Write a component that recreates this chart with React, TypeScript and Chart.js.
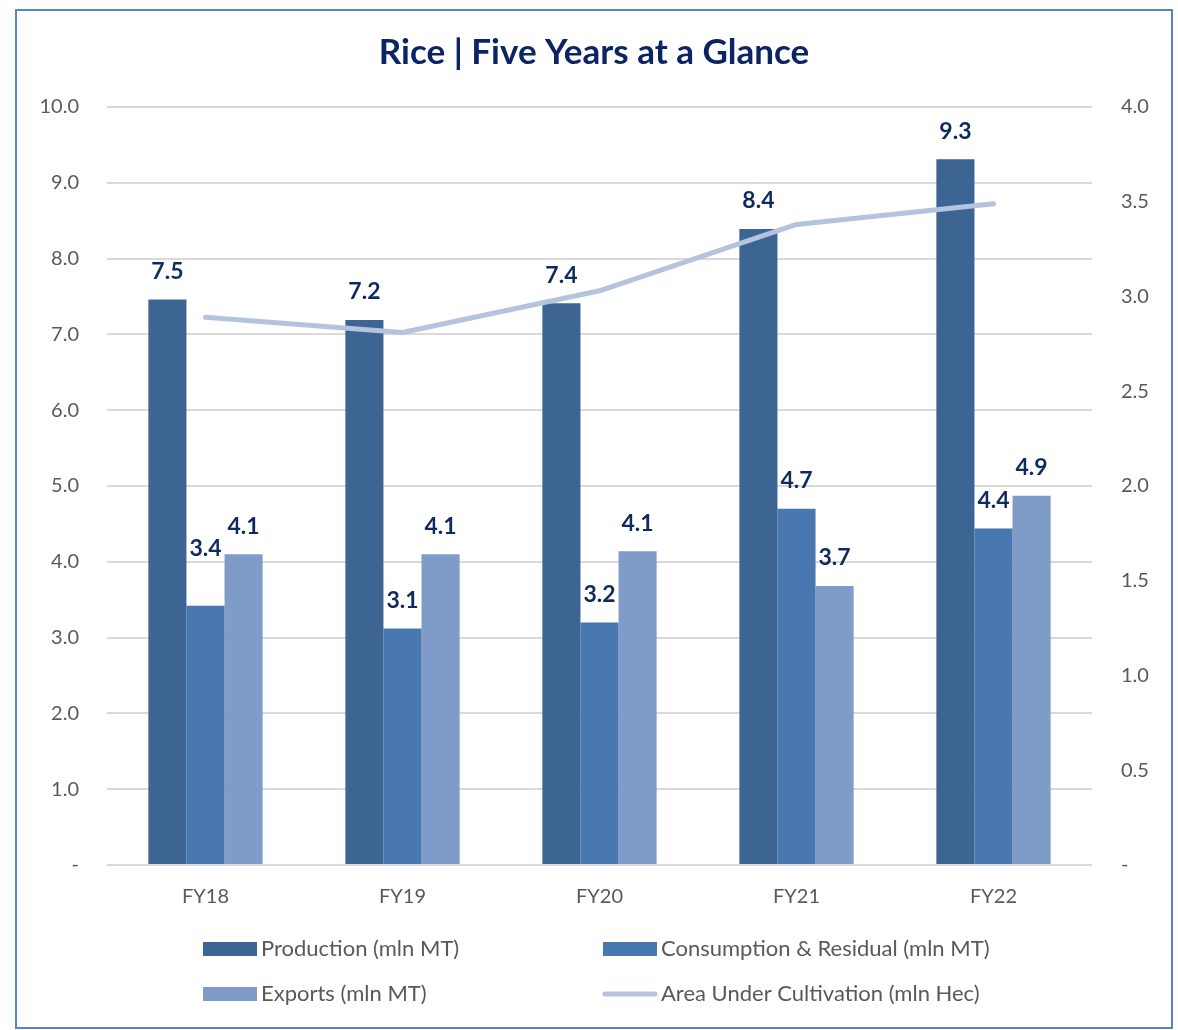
import React, { useEffect, useRef } from "react";
import { Chart, registerables } from "chart.js";

Chart.register(...registerables);

const categories = ["FY18", "FY19", "FY20", "FY21", "FY22"];
const production = [7.46, 7.19, 7.41, 8.39, 9.31];
const consumption = [3.42, 3.12, 3.2, 4.7, 4.44];
const exportsMT = [4.1, 4.1, 4.14, 3.68, 4.87];
const areaHec = [2.89, 2.81, 3.03, 3.38, 3.49];

const titleText = "Rice | Five Years at a Glance";
const FONT = "Lato, 'Open Sans', sans-serif";
const NAVY = "#0e2a5e";
const GREY = "#595959";

// Frame, title, value labels and a two-column legend drawn straight on the canvas
const decorations = {
  id: "decorations",
  beforeDraw(chart: any) {
    const { ctx, width, height } = chart;
    ctx.save();
    ctx.fillStyle = "#ffffff";
    ctx.fillRect(0, 0, width, height);
    ctx.strokeStyle = "#5485c6";
    ctx.lineWidth = 2;
    ctx.strokeRect(16, 10, width - 22, height - 12);
    ctx.fillStyle = "#0b2463";
    ctx.font = `bold 35px ${FONT}`;
    ctx.textAlign = "center";
    ctx.textBaseline = "middle";
    ctx.fillText(titleText, 594, 53);
    ctx.restore();
  },
  afterDatasetsDraw(chart: any) {
    const { ctx } = chart;
    ctx.save();
    ctx.font = `bold 23px ${FONT}`;
    ctx.fillStyle = NAVY;
    ctx.textAlign = "center";
    ctx.textBaseline = "middle";
    chart.data.datasets.forEach((ds: any, di: number) => {
      if (ds.type !== "bar") return;
      const meta = chart.getDatasetMeta(di);
      meta.data.forEach((el: any, i: number) => {
        const lift = (ds.labelLift && ds.labelLift[i]) || 0;
        ctx.fillText(Number(ds.data[i]).toFixed(1), el.x, el.y - 28 - lift);
      });
    });
    ctx.restore();
  },
  afterDraw(chart: any) {
    const { ctx } = chart;
    const cols = [203, 603];
    const rows = [949, 994];
    ctx.save();
    ctx.font = `22px ${FONT}`;
    ctx.textBaseline = "middle";
    ctx.textAlign = "left";
    chart.data.datasets.forEach((ds: any, i: number) => {
      const x = cols[i % 2];
      const y = rows[Math.floor(i / 2)];
      if (ds.type === "bar") {
        ctx.fillStyle = ds.backgroundColor;
        ctx.fillRect(x, y - 7, 54, 14);
      } else {
        ctx.strokeStyle = ds.borderColor;
        ctx.lineWidth = 5;
        ctx.lineCap = "round";
        ctx.beginPath();
        ctx.moveTo(x + 2, y);
        ctx.lineTo(x + 52, y);
        ctx.stroke();
      }
      ctx.fillStyle = GREY;
      ctx.fillText(ds.label, x + 58, y);
    });
    ctx.restore();
  },
};

const tickText = (v: any) => (Number(v) === 0 ? "-" : Number(v).toFixed(1));

export default function App() {
  const ref = useRef<HTMLCanvasElement | null>(null);

  useEffect(() => {
    if (!ref.current) return;
    const chart = new Chart(ref.current, {
      type: "bar",
      data: {
        labels: categories,
        datasets: [
          {
            type: "bar",
            label: "Production (mln MT)",
            data: production,
            backgroundColor: "#3c6594",
            yAxisID: "y",
            order: 2,
            categoryPercentage: 0.58,
            barPercentage: 1.0,
          } as any,
          {
            type: "bar",
            label: "Consumption & Residual (mln MT)",
            data: consumption,
            backgroundColor: "#4977b0",
            yAxisID: "y",
            order: 2,
            categoryPercentage: 0.58,
            barPercentage: 1.0,
            labelLift: [29, 0, 0, 0, 0],
          } as any,
          {
            type: "bar",
            label: "Exports (mln MT)",
            data: exportsMT,
            backgroundColor: "#7f9cc8",
            yAxisID: "y",
            order: 2,
            categoryPercentage: 0.58,
            barPercentage: 1.0,
          } as any,
          {
            type: "line",
            label: "Area Under Cultivation (mln Hec)",
            data: areaHec,
            borderColor: "#b4c4de",
            backgroundColor: "#b4c4de",
            borderWidth: 5,
            borderCapStyle: "round",
            borderJoinStyle: "round",
            pointRadius: 0,
            tension: 0,
            yAxisID: "y1",
            order: 0,
          } as any,
        ],
      },
      options: {
        animation: false,
        responsive: false,
        maintainAspectRatio: false,
        layout: { padding: { top: 107, left: 0, right: 0, bottom: 0 } },
        plugins: {
          legend: { display: false },
          title: { display: false },
          tooltip: { enabled: false },
        },
        scales: {
          x: {
            grid: { display: false },
            border: { display: false },
            ticks: { color: GREY, font: { family: FONT, size: 20 }, padding: 12 },
            afterFit: (s: any) => {
              s.height = 165;
            },
          },
          y: {
            position: "left",
            min: 0,
            max: 10,
            grid: { color: "#d9d9d9", lineWidth: 2, drawTicks: false },
            border: { display: false },
            ticks: {
              stepSize: 1,
              color: GREY,
              font: { family: FONT, size: 20 },
              padding: 28,
              callback: tickText,
            },
            afterFit: (s: any) => {
              s.width = 107;
            },
          },
          y1: {
            position: "right",
            min: 0,
            max: 4,
            grid: { display: false, drawTicks: false },
            border: { display: false },
            ticks: {
              stepSize: 0.5,
              color: GREY,
              font: { family: FONT, size: 20 },
              padding: 29,
              callback: tickText,
            },
            afterFit: (s: any) => {
              s.width = 86;
            },
          },
        },
      },
      plugins: [decorations],
    });
    return () => chart.destroy();
  }, []);

  return (
    <div style={{ position: "absolute", left: 0, top: 0, width: 1178, height: 1030 }}>
      <canvas ref={ref} width={1178} height={1030} style={{ display: "block" }} />
    </div>
  );
}
